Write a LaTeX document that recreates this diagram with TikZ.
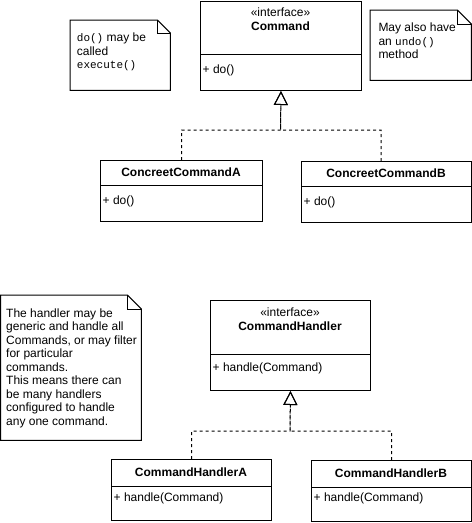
\documentclass[tikz,border=0pt]{standalone}
\usepackage{fontspec}
\setmainfont{Liberation Sans}
\newfontfamily\codefont{Liberation Mono}
\usetikzlibrary{arrows.meta}

% class box outline, note outline, realization connector
\tikzset{
  umlbox/.style={draw, line width=1pt, inner sep=0pt, anchor=north west},
  notearea/.style={inner sep=0pt, anchor=north west},
  txt/.style={inner sep=0pt, font=\fontsize{12}{13.6}\selectfont},
  realize/.style={line width=1pt, dash pattern=on 3pt off 3pt,
    -{Triangle[open, length=14pt, width=14pt, line width=1pt]}},
  plain/.style={line width=1pt},
}
\newcommand{\code}[1]{{\codefont\fontsize{11}{13.6}\selectfont #1}}
% folded-corner note outline around a named node
\newcommand{\noteshape}[2]{%
  \draw[plain, line join=miter]
    (#1.north west) -- ([xshift=-#2]#1.north east)
    -- ([yshift=-#2]#1.north east) -- (#1.south east)
    -- (#1.south west) -- cycle;
  \draw[plain]
    ([xshift=-#2]#1.north east) -- ([xshift=-#2,yshift=-#2]#1.north east)
    -- ([yshift=-#2]#1.north east);
}

\begin{document}
\begin{tikzpicture}[x=1pt, y=-1pt]
\useasboundingbox (0,0) rectangle (472,523);

% ---------- Command interface ----------
\node[umlbox, minimum width=161pt, minimum height=89.5pt] (cmd) at (200,0.5) {};
\draw[plain] (200,54) -- (361,54);
\node[txt, anchor=base] (cmdst) at (280.5,16.7) {«interface»};
\node[txt, anchor=base] (cmdname) at (280.5,30.7) {\bfseries Command};
\node[txt, anchor=base west] (cmdop) at (202.5,73.3) {+ do()};

% ---------- concrete commands ----------
\node[umlbox, minimum width=162pt, minimum height=61pt] (cca) at (100,160) {};
\draw[plain] (100,185) -- (262,185);
\node[txt, anchor=base] (ccaname) at (181,176.8) {\bfseries ConcreetCommandA};
\node[txt, anchor=base west] (ccaop) at (102.5,204.5) {+ do()};

\node[umlbox, minimum width=170pt, minimum height=61pt] (ccb) at (301,161) {};
\draw[plain] (301,186) -- (471,186);
\node[txt, anchor=base] (ccbname) at (386,177.6) {\bfseries ConcreetCommandB};
\node[txt, anchor=base west] (ccbop) at (303.5,205.3) {+ do()};

% ---------- CommandHandler interface ----------
\node[umlbox, minimum width=160pt, minimum height=90pt] (ch) at (210,300) {};
\draw[plain] (210,354) -- (370,354);
\node[txt, anchor=base] (chst) at (290,316.7) {«interface»};
\node[txt, anchor=base] (chname) at (290,330.7) {\bfseries CommandHandler};
\node[txt, anchor=base west] (chop) at (212.5,371) {+ handle(Command)};

% ---------- concrete handlers ----------
\node[umlbox, minimum width=160pt, minimum height=61pt] (cha) at (111,459) {};
\draw[plain] (111,486) -- (271,486);
\node[txt, anchor=base] (chaname) at (191,476.7) {\bfseries CommandHandlerA};
\node[txt, anchor=base west] (chaop) at (113.5,501) {+ handle(Command)};

\node[umlbox, minimum width=160pt, minimum height=61pt] (chb) at (311,460) {};
\draw[plain] (311,487) -- (471,487);
\node[txt, anchor=base] (chbname) at (391,477.3) {\bfseries CommandHandlerB};
\node[txt, anchor=base west] (chbop) at (313.5,501.7) {+ handle(Command)};

% ---------- realization connectors ----------
\coordinate (cmdjoin) at (280.5,130);
\coordinate (ccbtop) at (381,161);
\draw[realize] (cca.north) |- (cmdjoin) -- (cmd.south);
\draw[realize] (ccbtop) |- (cmdjoin) -- (cmd.south);

\coordinate (chjoin) at (290,431);
\draw[realize] (cha.north) |- (chjoin) -- (ch.south);
\draw[realize] (chb.north) |- (chjoin) -- (ch.south);

% ---------- notes ----------
\node[notearea, minimum width=100pt, minimum height=70pt] (note1) at (70,20) {};
\noteshape{note1}{13pt}
\node[txt, anchor=base west] (note1a) at (76.7,41.7) {\code{do()} may be};
\node[txt, anchor=base west] (note1b) at (76.7,55.3) {called};
\node[txt, anchor=base west] (note1c) at (76.7,68.9) {\code{execute()}};

\node[notearea, minimum width=101pt, minimum height=70pt] (note2) at (370,10) {};
\noteshape{note2}{14pt}
\node[txt, anchor=base west] (note2a) at (378.3,31.5) {May also have};
\node[txt, anchor=base west] (note2b) at (378.3,45.1) {an \code{undo()}};
\node[txt, anchor=base west] (note2c) at (378.3,58.7) {method};

\node[notearea, minimum width=140.5pt, minimum height=145pt] (note3) at (0.5,295) {};
\noteshape{note3}{14pt}
\foreach \line [count=\i from 0] in {%
  The handler may be,
  generic and handle all,
  {Commands, or may filter},
  for particular,
  commands.,
  This means there can,
  be many handlers,
  configured to handle,
  any one command.}
  \node[txt, anchor=base west] (note3l\i) at (6,317+13.55*\i) {\line};
\end{tikzpicture}
\end{document}
